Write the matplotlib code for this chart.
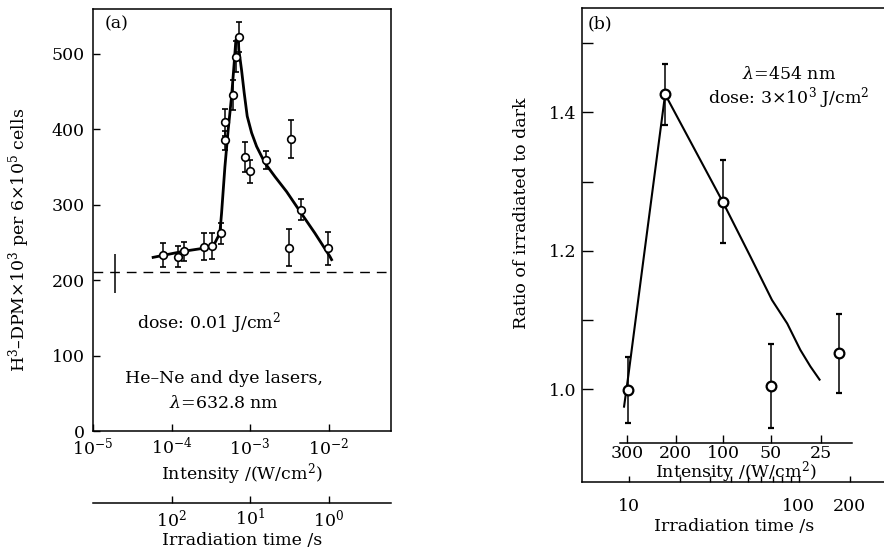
import matplotlib
matplotlib.use('Agg')
import matplotlib.pyplot as plt
from matplotlib.ticker import NullLocator, FixedLocator, NullFormatter

plt.rcParams['font.family'] = ['DejaVu Serif']
plt.rcParams['mathtext.fontset'] = 'dejavuserif'
plt.rcParams['font.size'] = 12.5

# ---- panel (a): He-Ne / dye lasers, dose 0.01 J/cm2 ----
a_intensity = [7.7e-5, 1.21e-4, 1.45e-4, 2.56e-4, 3.26e-4, 4.3e-4, 4.78e-4, 4.82e-4,
               6.09e-4, 6.53e-4, 7.14e-4, 8.67e-4, 1.0e-3, 1.59e-3, 3.09e-3, 3.34e-3,
               4.44e-3, 9.9e-3]
a_value = [233, 231, 238, 244, 245, 262, 385, 409, 445, 496, 522, 363, 344, 359, 243, 387,
           293, 242]
a_err = [16, 14, 13, 18, 17, 14, 13, 18, 20, 20, 20, 20, 15, 12, 25, 25, 14, 22]
a_control_intensity = [1.9e-5]
a_control_value = [209]
a_control_err = [26]
a_dark_level = 210
a_curve_intensity = [5.83e-5, 1.41e-4, 2.53e-4, 3.29e-4, 3.56e-4, 4.12e-4, 4.33e-4, 4.78e-4,
                     5.26e-4, 5.81e-4, 6.27e-4, 6.59e-4, 7.05e-4, 7.19e-4, 7.79e-4, 8.41e-4,
                     9.19e-4, 1.045e-3, 1.21e-3, 1.545e-3, 2.07e-3, 2.92e-3, 4.31e-3,
                     6.69e-3, 1.04e-2, 1.09e-2]
a_curve_value = [230, 238, 242, 245, 249, 262, 288, 350, 399, 443, 487, 518, 521, 505, 478,
                 448, 417, 395, 377, 355, 337, 317, 291, 262, 231, 227]
a_time_ticks = [100, 10, 1]
a_time_labels = ['$10^2$', '$10^1$', '$10^0$']
a_int_ticks = [1e-5, 1e-4, 1e-3, 1e-2]
a_int_labels = ['$10^{-5}$', '$10^{-4}$', '$10^{-3}$', '$10^{-2}$']
a_dose = 0.01

# ---- panel (b): 454 nm, dose 3x10^3 J/cm2 ----
b_time = [9.8, 16.3, 35.5, 68.9, 172]
b_ratio = [0.999, 1.426, 1.271, 1.005, 1.052]
b_err = [0.047, 0.044, 0.060, 0.061, 0.057]
b_curve_time = [9.3, 9.86, 12.1, 16.25, 35.5, 51.7, 69.4, 85.4, 102, 117, 132.5]
b_curve_ratio = [0.975, 1.02, 1.187, 1.426, 1.271, 1.192, 1.129, 1.095, 1.057, 1.033, 1.014]
b_intensity_labels = ['300', '200', '100', '50', '25']
b_intensity_tick_time = [9.65, 18.8, 35.9, 68.8, 135.5]

fig = plt.figure(figsize=(8.84, 5.56), dpi=100)

# panel (a)
ax = fig.add_axes([93 / 884, 125 / 556, 298 / 884, 422 / 556])
ax.set_xscale('log')
ax.set_xlim(1e-5, 10 ** -1.206)
ax.set_ylim(0, 559)
ax.axhline(a_dark_level, color='k', lw=1, ls=(0, (7, 5)))
ax.plot(a_curve_intensity, a_curve_value, color='k', lw=2)
ax.errorbar(a_control_intensity, a_control_value, yerr=a_control_err, fmt='none',
            ecolor='k', elinewidth=1.1, capsize=0)
ax.errorbar(a_intensity, a_value, yerr=a_err, fmt='o', ms=5.5, mfc='white', mec='k',
            mew=1.2, ecolor='k', elinewidth=1.1, capsize=2, capthick=1.1)
ax.set_xticks(a_int_ticks)
ax.set_xticklabels(a_int_labels)
ax.xaxis.set_minor_locator(NullLocator())
ax.set_yticks([0, 100, 200, 300, 400, 500])
ax.tick_params(direction='in', length=5, width=1, pad=6)
ax.tick_params(axis='x', pad=4)
ax.set_xlabel('Intensity /(W/cm$^2$)', labelpad=2)
ax.set_ylabel('H$^3$–DPM$\\times$10$^3$ per 6$\\times$10$^5$ cells')
ax.yaxis.set_label_coords(-0.205, 0.453)
for s in ax.spines.values():
    s.set_linewidth(1.1)
ax.text(0.04, 0.985, '(a)', transform=ax.transAxes, ha='left', va='top')
ax.text(0.39, 0.255, 'dose: 0.01 J/cm$^2$', transform=ax.transAxes, ha='center', va='center')
ax.text(0.44, 0.125, 'He–Ne and dye lasers,', transform=ax.transAxes, ha='center', va='center')
ax.text(0.44, 0.065, '$\\lambda$=632.8 nm', transform=ax.transAxes, ha='center', va='center')

sec = ax.secondary_xaxis(-0.17, functions=(lambda x: a_dose / x, lambda x: a_dose / x))
sec.set_xticks(a_time_ticks)
sec.set_xticklabels(a_time_labels)
sec.xaxis.set_minor_locator(NullLocator())
sec.tick_params(direction='in', length=5, width=1, pad=4)
sec.spines['bottom'].set_linewidth(1.1)
sec.set_xlabel('Irradiation time /s', labelpad=1)

# panel (b)
bx = fig.add_axes([581.7 / 884, 74.3 / 556, 305 / 884, 473.7 / 556])
bx.set_xscale('log')
bx.set_xlim(5.23, 330)
bx.set_ylim(0.8666, 1.5506)
bx.plot(b_curve_time, b_curve_ratio, color='k', lw=1.5)
bx.errorbar(b_time, b_ratio, yerr=b_err, fmt='o', ms=7, mfc='white', mec='k', mew=1.6,
            ecolor='k', elinewidth=1.1, capsize=2.5, capthick=1.1)
bx.set_xticks([10, 100, 200])
bx.set_xticklabels(['10', '100', '200'])
bx.xaxis.set_minor_locator(FixedLocator([20, 30, 40, 50, 60, 70, 80, 90]))
bx.xaxis.set_minor_formatter(NullFormatter())
bx.set_yticks([1.0, 1.2, 1.4])
bx.set_yticklabels(['1.0', '1.2', '1.4'])
bx.yaxis.set_minor_locator(FixedLocator([1.1, 1.3, 1.5]))
bx.tick_params(axis='y', which='both', direction='in', length=8, width=1, pad=4)
bx.tick_params(axis='x', which='both', direction='in', length=4, width=1, pad=12)
bx.spines['right'].set_visible(False)
for s in bx.spines.values():
    s.set_linewidth(1.1)
bx.set_xlabel('Irradiation time /s', labelpad=2)
bx.set_ylabel('Ratio of irradiated to dark')
bx.yaxis.set_label_coords(-0.17, 0.567)
bx.text(0.02, 0.985, '(b)', transform=bx.transAxes, ha='left', va='top')
bx.text(0.68, 0.86, '$\\lambda$=454 nm', transform=bx.transAxes, ha='center', va='center')
bx.text(0.68, 0.81, 'dose: 3$\\times$10$^3$ J/cm$^2$', transform=bx.transAxes,
        ha='center', va='center')

# inner intensity scale of (b)
ix = fig.add_axes([620 / 884, 112.7 / 556, 231.7 / 884, 0.001])
ix.patch.set_alpha(0)
ix.set_xscale('log')
ix.set_xlim(8.81, 206.6)
ix.set_yticks([])
for k in ['top', 'left', 'right']:
    ix.spines[k].set_visible(False)
ix.spines['bottom'].set_linewidth(1.1)
ix.set_xticks(b_intensity_tick_time)
ix.set_xticklabels(b_intensity_labels)
ix.xaxis.set_minor_locator(NullLocator())
ix.tick_params(axis='x', direction='in', length=6, width=1, pad=1)
ix.set_xlabel('Intensity /(W/cm$^2$)', labelpad=-2)

fig.savefig('out.png', dpi=100)
